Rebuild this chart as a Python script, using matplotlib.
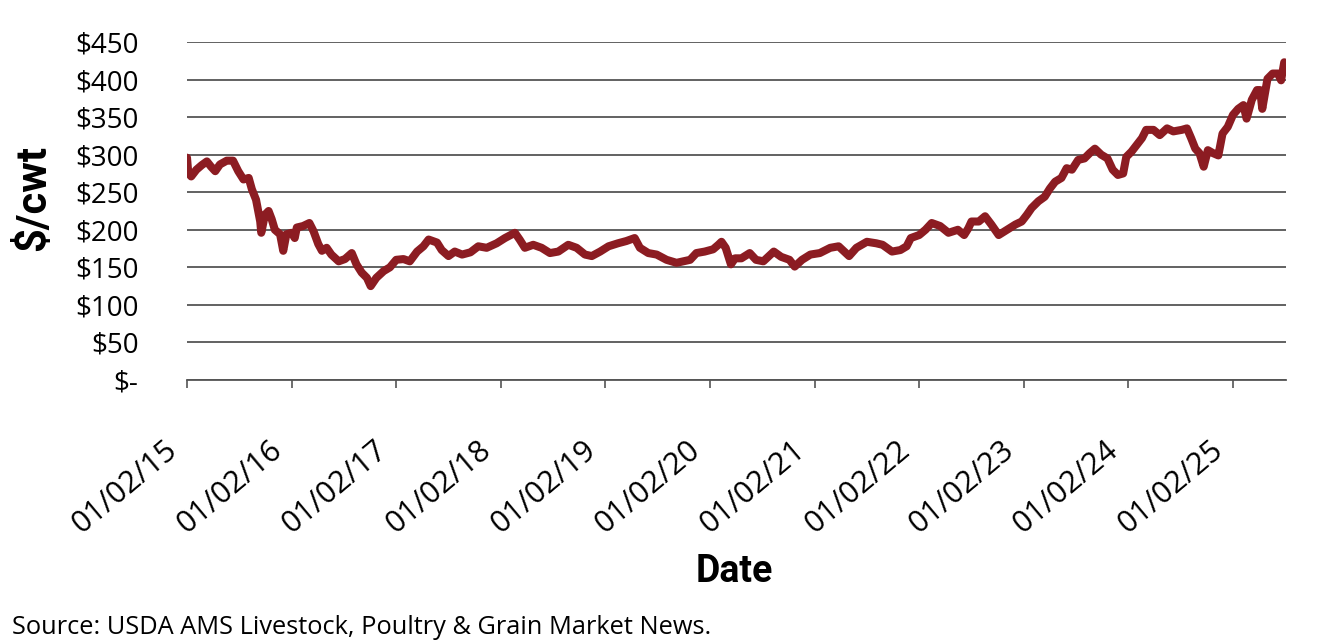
import datetime as dt
import matplotlib
matplotlib.use("Agg")
import matplotlib.pyplot as plt
from matplotlib import font_manager as fm
from matplotlib.ticker import FuncFormatter, MultipleLocator
from matplotlib.transforms import ScaledTranslation

# weekly price (years after 01/02/15, $/cwt)
years_from_start = [
    0.00, 0.012, 0.04, 0.09, 0.14, 0.19, 0.23, 0.27, 0.315, 0.38, 0.44, 0.49,
    0.54, 0.59, 0.62, 0.66, 0.70, 0.71, 0.745, 0.78, 0.81, 0.84, 0.89, 0.92,
    0.95, 1.00, 1.03, 1.05, 1.11, 1.17, 1.21, 1.255, 1.29, 1.335, 1.38, 1.45,
    1.51, 1.575, 1.62, 1.67, 1.72, 1.756, 1.81, 1.88, 1.94, 2.00, 2.07, 2.13,
    2.20, 2.26, 2.31, 2.39, 2.435, 2.50, 2.56, 2.63, 2.71, 2.785, 2.865, 2.96,
    3.04, 3.135, 3.18, 3.23, 3.31, 3.39, 3.47, 3.55, 3.645, 3.725, 3.805, 3.87,
    3.95, 4.03, 4.12, 4.20, 4.28, 4.33, 4.41, 4.49, 4.585, 4.68, 4.745, 4.81,
    4.87, 4.95, 5.03, 5.08, 5.11, 5.15, 5.20, 5.24, 5.30, 5.38, 5.44, 5.51,
    5.61, 5.68, 5.76, 5.81, 5.88, 5.96, 6.05, 6.15, 6.23, 6.33, 6.40, 6.50,
    6.59, 6.65, 6.74, 6.82, 6.88, 6.92, 7.00, 7.06, 7.12, 7.20, 7.28, 7.37,
    7.43, 7.47, 7.50, 7.57, 7.63, 7.69, 7.76, 7.84, 7.92, 7.98, 8.03, 8.075,
    8.14, 8.20, 8.25, 8.30, 8.36, 8.41, 8.46, 8.52, 8.58, 8.63, 8.68, 8.74,
    8.80, 8.85, 8.90, 8.95, 8.98, 9.03, 9.08, 9.13, 9.17, 9.24, 9.30, 9.37,
    9.43, 9.51, 9.56, 9.60, 9.64, 9.68, 9.72, 9.76, 9.81, 9.86, 9.90, 9.95,
    10.00, 10.05, 10.10, 10.13, 10.18, 10.23, 10.26, 10.28, 10.33, 10.38,
    10.43, 10.46, 10.49,
]
price = [
    296, 276, 271, 280, 286, 291, 284, 278, 287, 292, 292, 278,
    267, 269, 254, 240, 211, 196, 220, 225, 214, 200, 194, 172,
    194, 196, 189, 203, 205, 209, 198, 181, 172, 176, 167, 158,
    161, 169, 154, 143, 136, 125, 136, 145, 150, 160, 161, 158,
    171, 178, 187, 183, 173, 165, 171, 167, 170, 178, 176, 182,
    189, 196, 187, 176, 180, 176, 169, 171, 180, 176, 167, 165,
    171, 178, 182, 185, 189, 176, 169, 167, 160, 156, 158, 160,
    169, 171, 174, 180, 184, 176, 154, 162, 162, 169, 160, 158,
    171, 164, 160, 151, 160, 167, 169, 176, 178, 165, 176, 184,
    182, 180, 171, 173, 178, 189, 193, 200, 209, 205, 196, 200,
    193, 202, 211, 211, 218, 207, 193, 200, 207, 211, 220, 229,
    238, 244, 255, 264, 269, 282, 280, 293, 295, 302, 308, 300,
    295, 280, 273, 275, 297, 304, 313, 322, 333, 333, 326, 335,
    331, 333, 335, 322, 308, 302, 284, 306, 302, 299, 328, 337,
    353, 361, 366, 348, 373, 386, 386, 361, 401, 408,
    408, 399, 423,
]
tick_years = list(range(2015, 2026))

start = dt.datetime(2015, 1, 2)
dates = [start + dt.timedelta(days=t * 365.25) for t in years_from_start]
end = start + dt.timedelta(days=10.507 * 365.25)

installed = {f.name for f in fm.fontManager.ttflist}
body_font = "Open Sans" if "Open Sans" in installed else "DejaVu Sans"
bold_font = "Roboto" if "Roboto" in installed else body_font
plt.rcParams["font.family"] = [body_font, "DejaVu Sans"]

fig = plt.figure(figsize=(13.2, 6.44), dpi=100)
ax = fig.add_axes([187 / 1320, 1 - 380 / 644, (1286 - 187) / 1320, (380 - 42) / 644])

ax.plot(dates, price, color="#8c1c22", lw=5.8, solid_joinstyle="round",
        solid_capstyle="round", zorder=3)

ax.set_ylim(0, 450)
ax.set_xlim(start, end)
ax.yaxis.set_major_locator(MultipleLocator(50))
ax.yaxis.set_major_formatter(FuncFormatter(lambda v, p: "$-" if v == 0 else f"${v:.0f}"))
ax.grid(axis="y", color="#555555", lw=1.3, zorder=1)
ax.tick_params(axis="y", length=0, pad=35, labelsize=20)

xt = [dt.datetime(y, 1, 2) for y in tick_years]
ax.set_xticks(xt)
ax.set_xticklabels([d.strftime("%m/%d/%y") for d in xt], rotation=40,
                   ha="right", va="top", rotation_mode="anchor")
ax.tick_params(axis="x", length=6, width=1.2, color="#555555", pad=16, labelsize=22)
shift = ScaledTranslation(-0.23, -0.24, fig.dpi_scale_trans)
for lbl in ax.get_xticklabels():
    lbl.set_transform(lbl.get_transform() + shift)

for s in ["top", "right", "left"]:
    ax.spines[s].set_visible(False)
ax.spines["bottom"].set_color("#555555")
ax.spines["bottom"].set_linewidth(1.3)

ax.set_ylabel("$/cwt", family=[bold_font, "DejaVu Sans"], fontweight="bold",
              fontsize=30)
ax.yaxis.set_label_coords((54 - 187) / 1099, (380 - 198) / 338)
ax.set_xlabel("Date", family=[bold_font, "DejaVu Sans"], fontweight="bold",
              fontsize=27)
ax.xaxis.set_label_coords((734 - 187) / 1099, -(582 - 380) / 338)
ax.xaxis.label.set_va("baseline")

fig.text(12 / 1320, 1 - 634 / 644, "Source: USDA AMS Livestock, Poultry & Grain Market News.",
         fontsize=18.3, ha="left", va="baseline")

fig.savefig("out.png", dpi=100)
